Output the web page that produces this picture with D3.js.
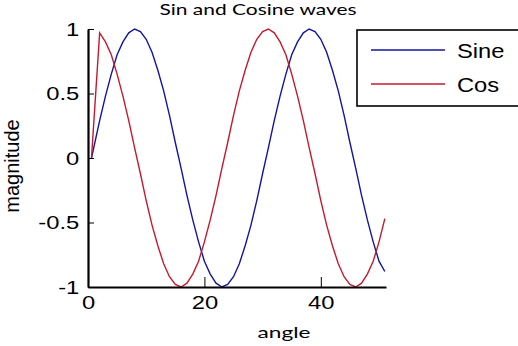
<!DOCTYPE html>
<meta charset="utf-8">
<style>
  body { margin: 0; background: #fff; }
  .axis path, .axis line { stroke: #000; }
  .axis text { font-family: "Liberation Sans", Arial, sans-serif; font-size: 19px; fill: #000; }
  .line { fill: none; stroke-width: 1.4px; }
</style>
<svg width="518" height="346"></svg>
<script src="https://cdn.jsdelivr.net/npm/d3@7"></script>
<script>

  // data
  var angle = [0.6, 2, 3, 4, 5, 6, 7, 8, 9, 10, 11, 12, 13, 14, 15, 16, 17, 18, 19, 20,
    21, 22, 23, 24, 25, 26, 27, 28, 29, 30, 31, 32, 33, 34, 35, 36, 37, 38, 39, 40,
    41, 42, 43, 44, 45, 46, 47, 48, 49, 50, 51];
  var sine = [0, 0.29, 0.48, 0.65, 0.80, 0.90, 0.97, 1.00, 0.98, 0.92, 0.82, 0.68, 0.52, 0.33, 0.12, -0.08,
    -0.29, -0.48, -0.65, -0.80, -0.90, -0.97, -1.00, -0.98, -0.92, -0.82, -0.68, -0.52, -0.33, -0.12,
    0.08, 0.29, 0.48, 0.65, 0.80, 0.90, 0.97, 1.00, 0.98, 0.92, 0.82, 0.68, 0.52, 0.33, 0.12, -0.08,
    -0.29, -0.48, -0.65, -0.80, -0.88];
  var cosine = [0, 0.97, 0.90, 0.80, 0.65, 0.48, 0.29, 0.08, -0.12, -0.33, -0.52, -0.68, -0.82, -0.92, -0.98,
    -1.00, -0.97, -0.90, -0.80, -0.65, -0.48, -0.29, -0.08, 0.12, 0.33, 0.52, 0.68, 0.82, 0.92, 0.98,
    1.00, 0.97, 0.90, 0.80, 0.65, 0.48, 0.29, 0.08, -0.12, -0.33, -0.52, -0.68, -0.82, -0.92, -0.98,
    -1.00, -0.97, -0.90, -0.80, -0.65, -0.47];
  var xTicks = [0, 20, 40];
  var yTicks = [-1, -0.5, 0, 0.5, 1];
  var seriesNames = ["Sine", "Cos"];
  var seriesColors = ["#1414a0", "#c41a30"];

  var svg = d3.select("svg");

  var xScale = d3.scaleLinear().domain([0, 51.2]).range([88, 386]);
  var yScale = d3.scaleLinear().domain([-1, 1]).range([287, 29]);

  var line = d3.line()
    .x(function (d) { return xScale(d.x); })
    .y(function (d) { return yScale(d.y); });

  var series = [sine, cosine].map(function (vals, i) {
    return {
      name: seriesNames[i],
      color: seriesColors[i],
      values: vals.map(function (v, j) { return { x: angle[j], y: v }; })
    };
  });

  // lines
  svg.selectAll(".line")
    .data(series)
    .enter().append("path")
    .attr("class", "line")
    .attr("d", function (d) { return line(d.values); })
    .style("stroke", function (d) { return d.color; });

  // x axis, ticks pointing in
  var xAxis = svg.append("g")
    .attr("class", "axis")
    .attr("transform", "translate(0," + yScale(-1) + ")")
    .call(d3.axisBottom(xScale).tickValues(xTicks).tickSizeInner(-10).tickSizeOuter(0).tickPadding(9));
  xAxis.select(".domain").attr("stroke-width", 2.2);
  xAxis.selectAll("text").attr("transform", "scale(1.25,1)");

  // y axis
  var yAxis = svg.append("g")
    .attr("class", "axis")
    .attr("transform", "translate(" + xScale(0) + ",0)")
    .call(d3.axisLeft(yScale).tickValues(yTicks).tickSizeInner(-6).tickSizeOuter(0).tickPadding(7)
      .tickFormat(function (d) { return String(d); }));
  yAxis.select(".domain").attr("stroke-width", 2.2);
  yAxis.selectAll("text").attr("transform", "scale(1.25,1)");

  // title and axis labels
  svg.append("text")
    .attr("x", 258).attr("y", 15)
    .attr("text-anchor", "middle")
    .attr("textLength", 197).attr("lengthAdjust", "spacingAndGlyphs")
    .style("font", "15px Lato, sans-serif")
    .text("Sin and Cosine waves");

  svg.append("text")
    .attr("x", 284).attr("y", 338)
    .attr("text-anchor", "middle")
    .attr("textLength", 53).attr("lengthAdjust", "spacingAndGlyphs")
    .style("font", "16px Lato, sans-serif")
    .text("angle");

  svg.append("text")
    .attr("transform", "translate(19,166) rotate(-90)")
    .attr("text-anchor", "middle")
    .style("font", "20px 'Liberation Sans', Arial, sans-serif")
    .text("magnitude");

  // legend
  var legend = svg.append("g").attr("transform", "translate(357,30)");
  legend.append("rect")
    .attr("width", 170).attr("height", 76)
    .attr("fill", "#fff").attr("stroke", "#000").attr("stroke-width", 1.6);

  var item = legend.selectAll(".item")
    .data(series)
    .enter().append("g")
    .attr("transform", function (d, i) { return "translate(0," + (20 + i * 34) + ")"; });
  item.append("line")
    .attr("x1", 14).attr("x2", 88)
    .attr("stroke-width", 1.6)
    .attr("stroke", function (d) { return d.color; });
  item.append("text")
    .attr("x", 0).attr("y", 7.5)
    .attr("transform", "translate(100,0) scale(1.13,1)")
    .style("font", "21px 'Liberation Sans', Arial, sans-serif")
    .text(function (d) { return d.name; });

</script>
